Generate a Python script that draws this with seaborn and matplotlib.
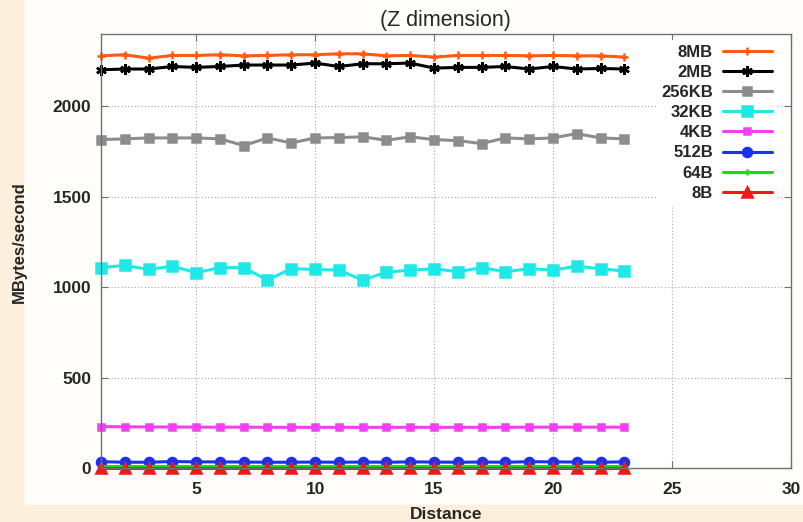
import numpy as np
import pandas as pd
import seaborn as sns
import matplotlib.pyplot as plt
from matplotlib.patches import Rectangle

sns.set_theme(style="ticks")
plt.rcParams['font.family'] = ['Liberation Sans', 'DejaVu Sans']

distance = list(range(1, 24))

mb8 = [2279, 2285, 2266, 2281, 2281, 2285, 2279, 2281, 2285, 2285, 2290, 2290,
       2279, 2281, 2272, 2281, 2281, 2281, 2279, 2281, 2279, 2279, 2272]
mb2 = [2202, 2206, 2206, 2220, 2215, 2220, 2228, 2228, 2228, 2239, 2220, 2235,
       2235, 2239, 2211, 2215, 2215, 2220, 2206, 2220, 2206, 2209, 2206]
kb256 = [1816, 1820, 1825, 1825, 1825, 1820, 1783, 1825, 1797, 1825, 1827, 1831,
         1812, 1831, 1816, 1810, 1794, 1825, 1820, 1825, 1849, 1825, 1820]
kb32 = [1108, 1120, 1098, 1116, 1080, 1108, 1108, 1039, 1102, 1098, 1094, 1039,
        1083, 1094, 1102, 1085, 1108, 1085, 1102, 1094, 1116, 1102, 1089]
kb4 = [229, 228, 227, 227, 226, 226, 226, 225, 225, 225, 225, 225,
       225, 225, 225, 225, 225, 225, 226, 226, 226, 226, 226]
b512 = [35, 32, 32, 36, 34, 34, 33, 32, 32, 33, 32, 33,
        32, 34, 33, 32, 33, 32, 35, 34, 33, 32, 34]
b64 = [9, 9, 9, 9, 9, 9, 9, 9, 9, 9, 9, 9,
       9, 9, 9, 9, 9, 9, 9, 9, 9, 9, 9]
b8 = [1, 1, 1, 1, 1, 1, 1, 1, 1, 1, 1, 1,
      1, 1, 1, 1, 1, 1, 1, 1, 1, 1, 1]

labels = ["8MB", "2MB", "256KB", "32KB", "4KB", "512B", "64B", "8B"]
series = [mb8, mb2, kb256, kb32, kb4, b512, b64, b8]

df = pd.DataFrame({
    "distance": distance * len(labels),
    "rate": np.concatenate(series),
    "size": np.repeat(labels, len(distance)),
})

colors = ["#ff5a14", "#000000", "#8c8c8c", "#1ee8e8", "#f040f0", "#1a32f0", "#10e010", "#f01818"]
markers = ["+", (6, 2, 0), "s", "s", "s", "o", "+", "^"]
msizes = [5.5, 7.5, 5.5, 6.5, 4.5, 6.5, 4.5, 6.5]

fig = plt.figure(figsize=(8.04, 5.22), dpi=100, facecolor="#fffdf9")
fig.add_artist(Rectangle((0, 0), 0.028, 1, transform=fig.transFigure,
                         color="#fcf0dd", zorder=0))
fig.add_artist(Rectangle((0, 0), 1, 0.032, transform=fig.transFigure,
                         color="#fcf0dd", zorder=0))
ax = fig.add_axes([0.1256, 0.1034, 0.858, 0.8316])
ax.set_facecolor("white")

for lab, col, mk, ms in zip(labels, colors, markers, msizes):
    sns.lineplot(data=df[df["size"] == lab], x="distance", y="rate", ax=ax,
                 color=col, marker=mk, markersize=ms, mec=col, mfc=col,
                 mew=1.8, linewidth=2.2, label=lab, clip_on=False)

ax.set_xlim(1, 30)
ax.set_ylim(0, 2400)
ax.set_xticks([5, 10, 15, 20, 25, 30])
ax.set_yticks([0, 500, 1000, 1500, 2000])
ax.grid(True, color="#a8a8a8", linestyle=(0, (1, 2)), linewidth=0.8)
ax.set_axisbelow(True)
for s in ax.spines.values():
    s.set_color("#707070")
    s.set_linewidth(1)
ax.tick_params(direction="in", length=5, width=0.8, color="#707070",
               labelsize=12.5, pad=7, top=True, right=True)
ax.tick_params(axis="x", pad=10)
for t in ax.get_xticklabels() + ax.get_yticklabels():
    t.set_fontweight("bold")

ax.set_title("(Z dimension)", fontsize=15.5, pad=6)
ax.set_xlabel("Distance", fontsize=12.5, fontweight="bold", labelpad=7)
ax.set_ylabel("MBytes/second", fontsize=12, fontweight="bold")
ax.yaxis.set_label_coords(-0.107, 0.52)

# markerfirst=False puts the label left of the line and right-aligns the rows
leg = ax.legend(loc="upper right", bbox_to_anchor=(0.98, 0.987), markerfirst=False,
                frameon=True, fancybox=False, framealpha=1, edgecolor="none",
                facecolor="white", fontsize=12, handlelength=2.95,
                labelspacing=0.31, borderpad=0.3, handletextpad=0.6,
                borderaxespad=0)
for t in leg.get_texts():
    t.set_fontweight("bold")

fig.savefig("out.png", dpi=100, facecolor=fig.get_facecolor())
